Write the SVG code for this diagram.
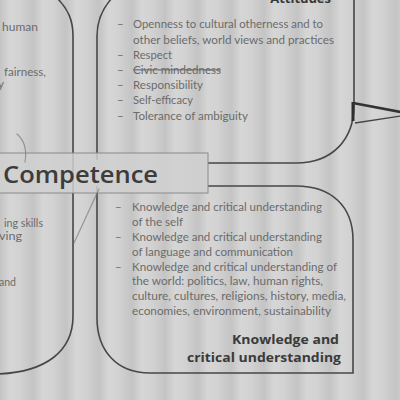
<svg xmlns="http://www.w3.org/2000/svg" width="400" height="400" viewBox="0 0 400 400">
  <defs>
    <!-- scanned paper: light grey with soft vertical bands -->
    <linearGradient id="paper" x1="0" y1="0" x2="33" y2="0" gradientUnits="userSpaceOnUse" spreadMethod="repeat">
      <stop offset="0" stop-color="#c4c4c4"/>
      <stop offset="0.3" stop-color="#d6d6d6"/>
      <stop offset="0.6" stop-color="#d2d2d2"/>
      <stop offset="1" stop-color="#c4c4c4"/>
    </linearGradient>
    <style>
      .frame { fill: none; stroke: #474747; stroke-width: 1.6; }
      .banner { fill: #d0d0d0; fill-opacity: 0.85; stroke: #8a8a8a; stroke-width: 1; }
      .item { font-family: Lato, "Open Sans", sans-serif; font-size: 11.5px; fill: #6b6b6b; }
      .dash { font-family: Lato, "Open Sans", sans-serif; font-size: 11.5px; fill: #6b6b6b; }
      .head { font-family: "Open Sans", Lato, sans-serif; font-size: 13px; font-weight: 700; fill: #3a3a3a; }
      .title { font-family: "Open Sans", Lato, sans-serif; font-size: 24px; font-weight: 600; fill: #3c3c3c; }
      .pencil { fill: none; stroke: #7a7a7a; stroke-width: 1.2; stroke-linecap: round; opacity: 0.7; }
    </style>
  </defs>

  <rect x="0" y="0" width="400" height="400" fill="url(#paper)"/>

  <!-- left rounded panel (mostly out of view) -->
  <g id="left-panel">
    <path class="frame" d="M 57,-2 C 68,9 73,20 73,36 V 316 C 73,352 45,372 -2,374"/>
    <text class="item" x="2" y="31" textLength="36" lengthAdjust="spacingAndGlyphs">human</text>
    <text class="item" x="4" y="76" textLength="42" lengthAdjust="spacingAndGlyphs">fairness,</text>
    <text class="item" x="-2" y="88">y</text>
    <text class="item" x="4" y="227" textLength="39" lengthAdjust="spacingAndGlyphs">ing skills</text>
    <text class="item" x="-1" y="240" textLength="23" lengthAdjust="spacingAndGlyphs">ving</text>
    <text class="item" x="-1" y="286" textLength="17" lengthAdjust="spacingAndGlyphs">and</text>
  </g>

  <!-- Attitudes panel -->
  <g id="attitudes">
    <path class="frame" d="M 112,-2 C 102,9 97,20 97,36 V 160"/>
    <path class="frame" d="M 354,-2 V 105 C 354,140 332,163 296,163 H 208"/>
    <text class="head" x="331" y="3" text-anchor="end">Attitudes</text>
    <g>
      <text class="dash" x="117" y="28">–</text>
      <text class="item" x="133" y="28" textLength="190" lengthAdjust="spacingAndGlyphs">Openness to cultural otherness and to</text>
      <text class="item" x="133" y="43.5" textLength="201" lengthAdjust="spacingAndGlyphs">other beliefs, world views and practices</text>
      <text class="dash" x="117" y="58.5">–</text>
      <text class="item" x="133" y="58.5" textLength="39" lengthAdjust="spacingAndGlyphs">Respect</text>
      <text class="dash" x="117" y="73.5">–</text>
      <text class="item" x="133" y="73.5" textLength="88" lengthAdjust="spacingAndGlyphs" text-decoration="line-through">Civic mindedness</text>
      <text class="dash" x="117" y="88.5">–</text>
      <text class="item" x="133" y="88.5" textLength="70" lengthAdjust="spacingAndGlyphs">Responsibility</text>
      <text class="dash" x="117" y="104">–</text>
      <text class="item" x="133" y="104" textLength="60" lengthAdjust="spacingAndGlyphs">Self-efficacy</text>
      <text class="dash" x="117" y="119.5">–</text>
      <text class="item" x="133" y="119.5" textLength="115" lengthAdjust="spacingAndGlyphs">Tolerance of ambiguity</text>
    </g>
  </g>

  <!-- Knowledge and critical understanding panel -->
  <g id="knowledge">
    <path class="frame" d="M 208,186 H 296 C 331,186 353,206 353,240 V 373 H 150 C 116,373 97,350 97,318 V 186"/>
    <g>
      <text class="dash" x="115" y="211">–</text>
      <text class="item" x="132" y="211" textLength="190" lengthAdjust="spacingAndGlyphs">Knowledge and critical understanding</text>
      <text class="item" x="132" y="226" textLength="51" lengthAdjust="spacingAndGlyphs">of the self</text>
      <text class="dash" x="115" y="241">–</text>
      <text class="item" x="132" y="241" textLength="190" lengthAdjust="spacingAndGlyphs">Knowledge and critical understanding</text>
      <text class="item" x="132" y="256" textLength="161" lengthAdjust="spacingAndGlyphs">of language and communication</text>
      <text class="dash" x="115" y="270.5">–</text>
      <text class="item" x="132" y="270.5" textLength="205" lengthAdjust="spacingAndGlyphs">Knowledge and critical understanding of</text>
      <text class="item" x="132" y="285" textLength="191" lengthAdjust="spacingAndGlyphs">the world: politics, law, human rights,</text>
      <text class="item" x="132" y="300" textLength="214" lengthAdjust="spacingAndGlyphs">culture, cultures, religions, history, media,</text>
      <text class="item" x="132" y="314.5" textLength="199" lengthAdjust="spacingAndGlyphs">economies, environment, sustainability</text>
    </g>
    <text class="head" x="339" y="344" text-anchor="end" textLength="107" lengthAdjust="spacingAndGlyphs">Knowledge and</text>
    <text class="head" x="341" y="362" text-anchor="end" textLength="154" lengthAdjust="spacingAndGlyphs">critical understanding</text>
  </g>

  <!-- central title banner -->
  <g id="competence">
    <rect class="banner" x="-2" y="153" width="210" height="40"/>
    <text class="title" x="3" y="183" textLength="155" lengthAdjust="spacingAndGlyphs">Competence</text>
  </g>

  <!-- connectors -->
  <g id="connectors">
    <line x1="353" y1="102" x2="353" y2="121" stroke="#2e2e2e" stroke-width="3"/>
    <line x1="353" y1="103" x2="401" y2="112" stroke="#333" stroke-width="2.6"/>
    <line x1="355" y1="123" x2="401" y2="116" stroke="#444" stroke-width="1.3"/>
  </g>

  <!-- pencil marks on the sheet -->
  <g id="pencil">
    <path class="pencil" d="M 17,134 C 24,140 27,150 25,162"/>
    <path class="pencil" d="M 74,243 L 99,189"/>
  </g>
</svg>
